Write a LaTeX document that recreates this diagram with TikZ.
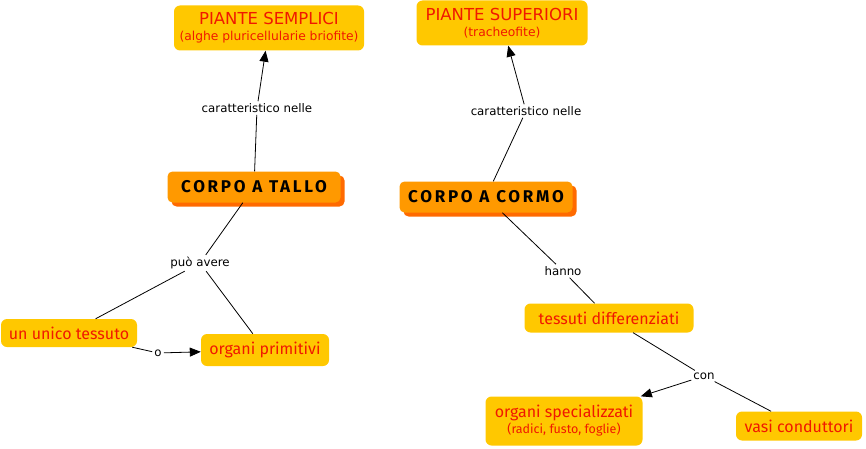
\documentclass[tikz,border=0pt]{standalone}
\usepackage{fontspec}
\setmainfont{DejaVu Sans}
\newfontfamily\conceptfont{Fira Sans}
\newfontfamily\mainfont[LetterSpace=16]{Fira Sans}
\usetikzlibrary{arrows.meta,shadows}
\definecolor{boxgold}{HTML}{FFC800}
\definecolor{boxorange}{HTML}{FF9900}
\definecolor{shadoworange}{HTML}{FF6A00}
\definecolor{textred}{HTML}{F01800}
\tikzset{
  concept/.style={rectangle, rounded corners=6pt, fill=boxgold, text=textred, inner sep=0pt, align=center, font=\conceptfont\fontsize{16}{18}\selectfont},
  topbox/.style={rectangle, rounded corners=6pt, fill=boxgold, text=textred, inner sep=0pt, align=center, font=\fontsize{16.5}{18}\selectfont},
  mainbox/.style={rectangle, rounded corners=5pt, fill=boxorange, text=black, inner sep=0pt, align=center, font=\mainfont\bfseries\fontsize{17}{19}\selectfont,
    drop shadow={shadow xshift=4pt, shadow yshift=-4pt, fill=shadoworange, opacity=1}},
  lbl/.style={inner sep=2pt, font=\fontsize{11.8}{13}\selectfont, text=black},
  conn/.style={draw=black, line width=0.8pt},
  arr/.style={conn, -{Triangle[length=11pt,width=9pt]}}
}
\begin{document}
\begin{tikzpicture}[x=1pt,y=-1pt]
\useasboundingbox (0,0) rectangle (866,449);
% concept nodes
\node[topbox, minimum width=190pt, minimum height=45pt] (ps) at (269,28) {PIANTE SEMPLICI\\[-2pt]{\fontsize{12.3}{13}\selectfont(alghe pluricellularie briofite)}};
\node[topbox, minimum width=171pt, minimum height=45pt] (psup) at (502,23) {PIANTE SUPERIORI\\[-2pt]{\fontsize{12.3}{13}\selectfont(tracheofite)}};
\node[mainbox, minimum width=173pt, minimum height=31pt] (tallo) at (254,187) {CORPO A TALLO};
\node[mainbox, minimum width=173pt, minimum height=31pt] (cormo) at (486,197) {CORPO A CORMO};
\node[concept, minimum width=136pt, minimum height=28pt] (unico) at (69,333) {un unico tessuto};
\node[concept, minimum width=128pt, minimum height=32pt] (primitivi) at (265,350) {organi primitivi};
\node[concept, minimum width=169pt, minimum height=29pt] (diff) at (609,318) {tessuti differenziati};
\node[concept, minimum width=157pt, minimum height=49pt] (spec) at (564,421) {organi specializzati\\[-2pt]{\fontsize{12.5}{14}\selectfont(radici, fusto, foglie)}};
\node[concept, minimum width=126pt, minimum height=29pt] (vasi) at (799,426) {vasi conduttori};
% linking labels
\node[lbl] (car1) at (257,108) {caratteristico nelle};
\node[lbl] (car2) at (526,111) {caratteristico nelle};
\node[lbl] (puo) at (200,263) {può avere};
\node[lbl] (o) at (158,353) {o};
\node[lbl] (hanno) at (563,271) {hanno};
\node[lbl] (con) at (704,376) {con};
% connectors
\draw[conn] (tallo) -- (car1);
\draw[arr] (car1) -- (ps);
\draw[conn] (cormo) -- (car2);
\draw[arr] (car2) -- (psup);
\draw[conn] (tallo) -- (puo);
\draw[conn] (puo) -- (unico);
\draw[conn] (puo) -- (primitivi);
\draw[conn] (unico) -- (o);
\draw[arr] (o) -- (primitivi);
\draw[conn] (cormo) -- (hanno);
\draw[conn] (hanno) -- (diff);
\draw[conn] (diff) -- (con);
\draw[arr] (con) -- (spec);
\draw[conn] (con) -- (vasi);
\end{tikzpicture}
\end{document}
